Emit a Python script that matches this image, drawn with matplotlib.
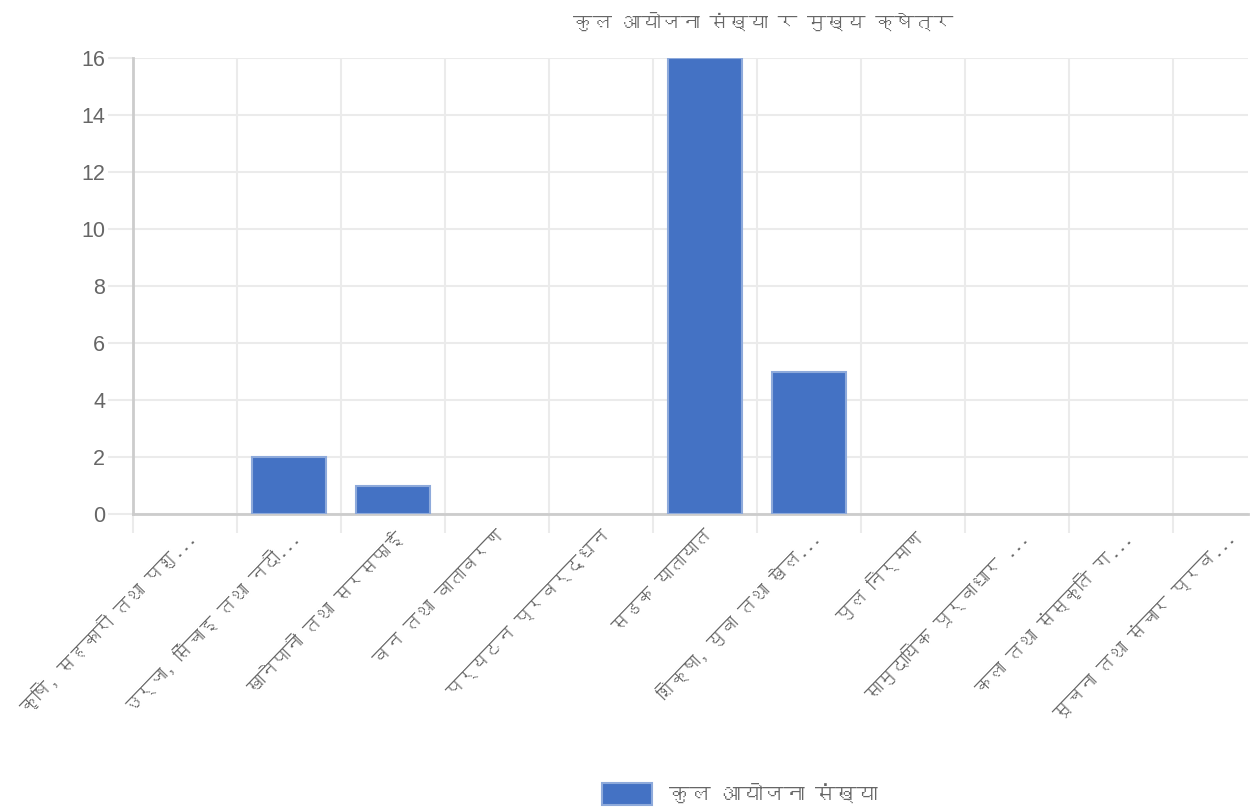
import matplotlib
matplotlib.use("Agg")
import matplotlib.pyplot as plt
from matplotlib import font_manager
from matplotlib.ft2font import FT2Font
from matplotlib.patches import Patch

# डेटा
categories = [
    "कृषि, सहकारी तथा पशु...",
    "उर्जा, सिंचाइ तथा नदी...",
    "खानेपानी तथा सरसफाई",
    "वन तथा वातावरण",
    "पर्यटन प्रवर्द्धन",
    "सडक यातायात",
    "शिक्षा, युवा तथा खेल...",
    "पुल निर्माण",
    "सामुदायिक पूर्वाधार ...",
    "कला तथा संस्कृति ग...",
    "सूचना तथा संचार प्रव...",
]
project_counts = [0, 2, 1, 0, 0, 16, 5, 0, 0, 0, 0]
y_ticks = [0, 2, 4, 6, 8, 10, 12, 14, 16]
title = "कुल आयोजना संख्या र मुख्य क्षेत्र"
legend_label = "कुल आयोजना संख्या"

BAR = "#4472c4"
EDGE = "#8eaadb"
TXT = "#666666"
GRID = "#ebebeb"


def devanagari_family():
    # पहिलो देवनागरी अक्षर भएको फन्ट खोज्ने
    for f in font_manager.fontManager.ttflist:
        try:
            if FT2Font(f.fname).get_char_index(0x0915):
                return f.name
        except Exception:
            pass
    return None


fam = devanagari_family()
plt.rcParams["font.family"] = ([fam] if fam else []) + ["DejaVu Sans"]

fig = plt.figure(figsize=(12.57, 8.10), dpi=100)
ax = fig.add_axes([133 / 1257, 1 - 514 / 810, 1115 / 1257, 456 / 810])

x = range(len(categories))
ax.bar(x, project_counts, width=0.72, color=BAR, edgecolor=EDGE,
       linewidth=[1.5 if v else 0 for v in project_counts],
       zorder=3, label=legend_label)

ax.set_xlim(-0.5, -0.5 + 1115 / 104)
ax.set_ylim(0, 16)
ax.set_yticks(y_ticks)
ax.set_yticklabels([str(v) for v in y_ticks], family=["Liberation Sans", "DejaVu Sans"],
                   fontsize=15.5, color=TXT)
ax.set_xticks([i - 0.5 for i in x], minor=False)
ax.set_xticklabels([])
ax.set_xticks(list(x), minor=True)
ax.set_xticklabels(categories, minor=True, rotation=46, ha="right", va="top",
                   rotation_mode="anchor", fontsize=13, color=TXT)
ax.tick_params(axis="x", which="minor", length=0, pad=10)
ax.tick_params(axis="x", which="major", length=14, color=GRID, width=1.5)
ax.tick_params(axis="y", length=18, color=GRID, width=1.5, pad=2)

ax.grid(True, which="major", color=GRID, linewidth=1.5, zorder=0)
for s in ("top", "right"):
    ax.spines[s].set_visible(False)
for s in ("left", "bottom"):
    ax.spines[s].set_color("#cccccc")
    ax.spines[s].set_linewidth(2)

fig.text(763 / 1257, 1 - 21 / 810, title, ha="center", va="center",
         fontsize=14, color=TXT)

fig.legend(handles=[Patch(facecolor=BAR, edgecolor=EDGE, linewidth=1.5, label=legend_label)],
           loc="center", bbox_to_anchor=(740 / 1257, 1 - 794 / 810), frameon=False,
           fontsize=15, handlelength=2.4, handleheight=1.2, labelcolor=TXT)

fig.savefig("out.png", dpi=100, facecolor="white")
